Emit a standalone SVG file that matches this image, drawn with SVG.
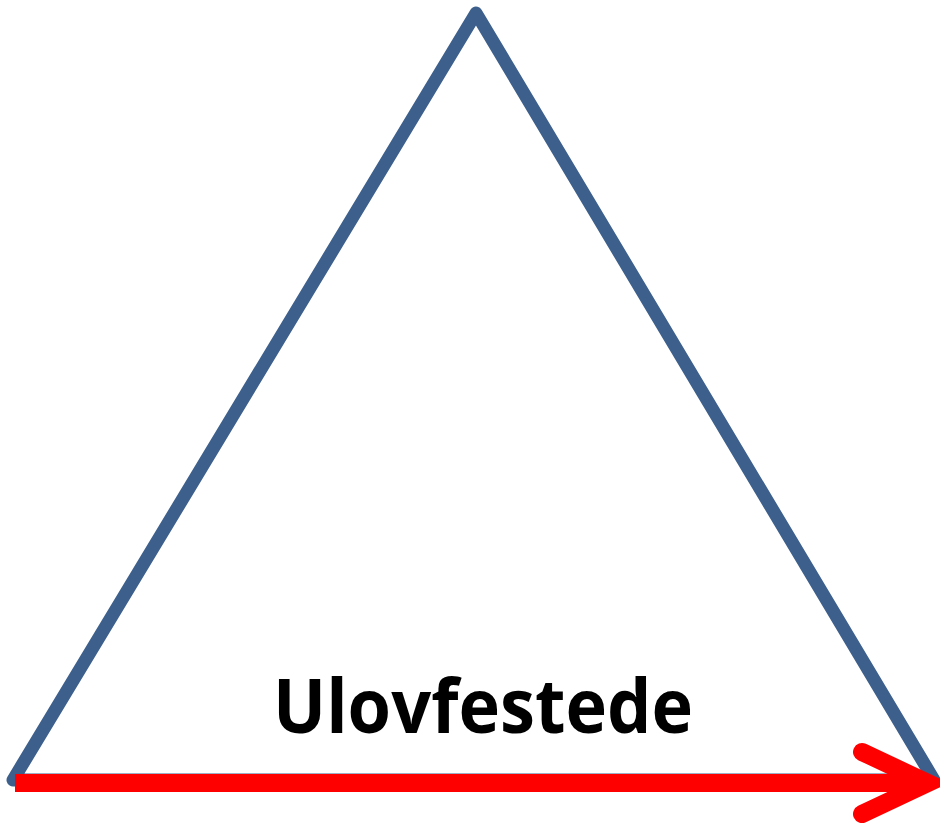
<svg xmlns="http://www.w3.org/2000/svg" width="940" height="825" viewBox="0 0 940 825">
<style>
.tri{fill:none;stroke:#3c5f8c;stroke-width:13;stroke-linejoin:round;stroke-linecap:round}
.arrow{fill:none;stroke:#ff0000;stroke-width:18;stroke-linecap:round;stroke-linejoin:miter}
.lbl{font-family:"Open Sans","Liberation Sans",sans-serif;font-weight:bold;font-size:76px;fill:#000}
</style>
<rect width="940" height="825" fill="#fff"/>
<g id="triangle">
<polygon class="tri" points="476,13 13,780 934,780"/>
</g>
<g id="label">
<text class="lbl" x="483" y="733" text-anchor="middle" textLength="420" lengthAdjust="spacingAndGlyphs">Ulovfestede</text>
</g>
<g id="connectors">
<line x1="15" y1="783" x2="925" y2="783" stroke="#ff0000" stroke-width="18"/>
<polyline class="arrow" points="862,752 928,783 862,814"/>
</g>
</svg>
